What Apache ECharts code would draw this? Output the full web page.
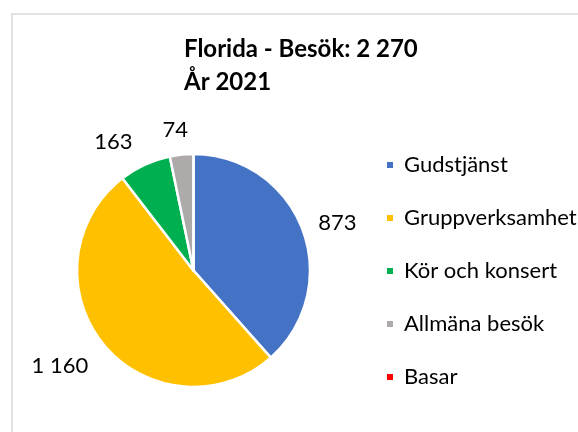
<!DOCTYPE html>
<html>
<head>
<meta charset="utf-8">
<script src="https://cdn.jsdelivr.net/npm/echarts@6/dist/echarts.min.js"></script>
<style>
  html, body { margin: 0; padding: 0; background: #fff; }
  #main { width: 578px; height: 432px; }
</style>
</head>
<body>
<div id="main"></div>
<script>
// data
var categories = ['Gudstjänst', 'Gruppverksamhet', 'Kör och konsert', 'Allmäna besök', 'Basar'];
var visits = [873, 1160, 163, 74, 0];
var colors = ['#4472C4', '#FFC000', '#00B050', '#AEAAAA', '#FF0000'];
var place = 'Florida';
var year = 2021;

// label line lengths per slice (where the value text sits)
var lineLen = [17, 33, 25, 25, 10];
var lineGap = [0, -10, 2, -9, 5];

function fmt(v) {
  return String(v).replace(/\B(?=(\d{3})+(?!\d))/g, ' ');
}
var total = visits.reduce(function (a, b) { return a + b; }, 0);

var font = 'Lato';

var seriesData = categories.map(function (name, i) {
  return {
    name: name,
    value: visits[i],
    itemStyle: { color: colors[i] },
    label: { show: visits[i] > 0, distanceToLabelLine: lineGap[i] },
    labelLine: { show: false, length: lineLen[i], length2: 0 }
  };
});

var myChart = echarts.init(document.getElementById('main'));
myChart.setOption({
  animation: false,
  title: {
    text: place + ' - Besök: ' + fmt(total) + '\nÅr ' + year,
    left: 184,
    top: 33,
    padding: 0,
    textStyle: { fontFamily: font, fontWeight: 'bold', fontSize: 24, lineHeight: 33, color: '#000' }
  },
  legend: {
    orient: 'vertical',
    left: 385,
    top: 154,
    padding: 0,
    itemWidth: 8,
    itemHeight: 8,
    itemGap: 31,
    icon: 'rect',
    selectedMode: false,
    data: categories,
    textStyle: { fontFamily: font, fontSize: 22, lineHeight: 22, color: '#000', padding: [0, 0, 0, 5] }
  },
  graphic: [{
    type: 'rect',
    shape: { x: 12, y: 14, width: 620, height: 460 },
    style: { fill: 'none', stroke: '#d9d9d9', lineWidth: 1.5 },
    silent: true
  }],
  series: [{
    type: 'pie',
    center: [193.5, 270.5],
    radius: 116.5,
    startAngle: 90,
    clockwise: true,
    avoidLabelOverlap: false,
    itemStyle: { borderColor: '#fff', borderWidth: 2.5 },
    label: {
      position: 'outside',
      fontFamily: font,
      fontSize: 22,
      color: '#000',
      formatter: function (p) { return fmt(p.value); }
    },
    emphasis: { disabled: true },
    data: seriesData
  }]
});
</script>
</body>
</html>
